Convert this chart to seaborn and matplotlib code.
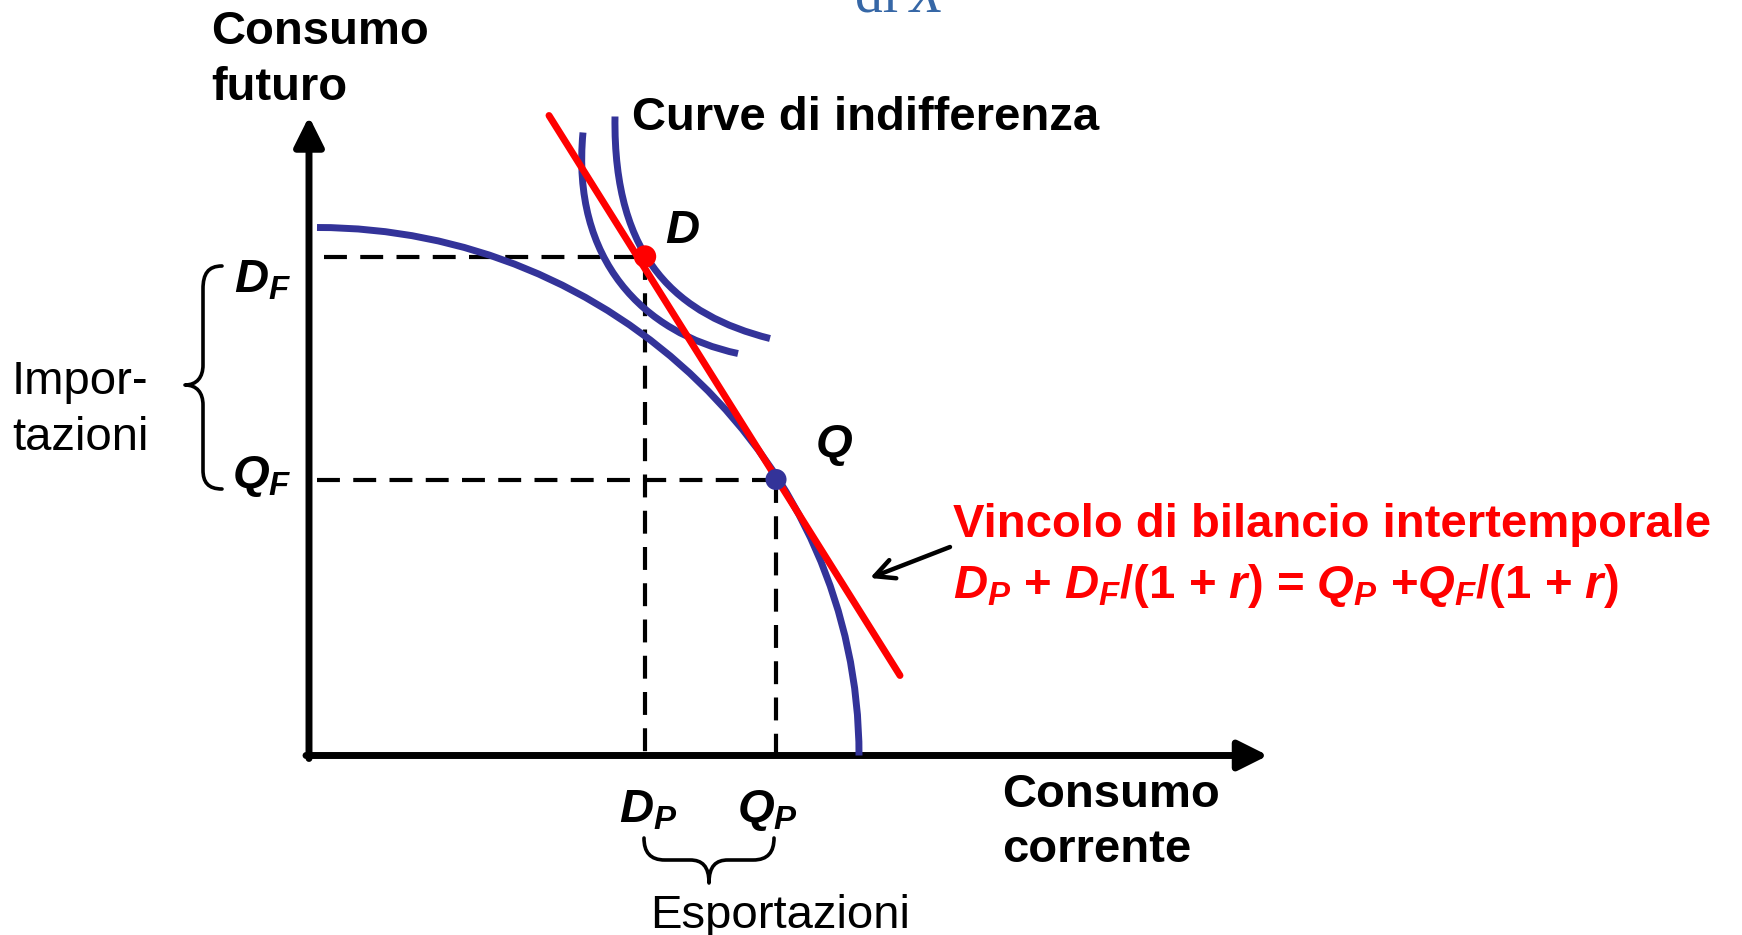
import matplotlib
matplotlib.use("Agg")
import matplotlib.pyplot as plt
import seaborn as sns
from matplotlib.path import Path
from matplotlib.patches import PathPatch

# Diagram values (units: one unit = 100 px in the 1742x935 frame, origin at the axes corner)
D_point = (3.36, 4.99)          # (D_P, D_F)
Q_point = (4.67, 2.76)          # (Q_P, Q_F)
budget_x = [2.40, 5.91]
budget_y = [6.40, 0.80]
ppf_ctrl_x = [0.08, 3.04, 5.50, 5.50]
ppf_ctrl_y = [5.28, 5.28, 2.92, 0.00]
ic1_ctrl_x = [3.06, 3.04, 3.70, 4.61]
ic1_ctrl_y = [6.39, 4.95, 4.40, 4.17]
ic2_ctrl_x = [2.74, 2.62, 3.35, 4.29]
ic2_ctrl_y = [6.23, 4.95, 4.22, 4.02]
x_axis_end = 9.59
y_axis_end = 6.39

BLUE = "#333399"
RED = "#ff0000"

sns.set_theme(style="white")
plt.rcParams["font.family"] = ["Liberation Sans", "DejaVu Sans"]
plt.rcParams["mathtext.fontset"] = "custom"
plt.rcParams["mathtext.rm"] = "Liberation Sans:bold"
plt.rcParams["mathtext.it"] = "Liberation Sans:bold:italic"
plt.rcParams["mathtext.bf"] = "Liberation Sans:bold"


def px(x, y):
    # pixel position in the reference frame -> data units
    return (x - 309) / 100, (755.5 - y) / 100


def bezier(ax, xs, ys, **kw):
    verts = list(zip(xs, ys))
    path = Path(verts, [Path.MOVETO, Path.CURVE4, Path.CURVE4, Path.CURVE4])
    ax.add_patch(PathPatch(path, fill=False, capstyle="butt", **kw))


def brace(ax, pts, codes):
    verts = [px(*p) for p in pts]
    ax.add_patch(PathPatch(Path(verts, codes), fill=False, lw=2.6,
                           color="black", capstyle="round", joinstyle="round"))


fig = plt.figure(figsize=(17.42, 9.35), dpi=100)
ax = fig.add_axes([0, 0, 1, 1])
ax.set_xlim(-3.09, 14.33)
ax.set_ylim(-1.795, 7.555)
ax.axis("off")

# axes with arrow heads
arrow_kw = dict(arrowstyle="-|>,head_length=0.9,head_width=0.45", lw=5,
                color="black", mutation_scale=20, shrinkA=0, shrinkB=0)
ax.annotate("", xy=(x_axis_end, 0), xytext=(-0.03, 0), arrowprops=arrow_kw)
ax.annotate("", xy=(0, y_axis_end), xytext=(0, -0.03), arrowprops=arrow_kw)

# dashed guide lines
dash = dict(color="black", linewidth=3.0, linestyle=(0, (5.5, 3.2)), zorder=2)
ax.plot([0.15, D_point[0]], [D_point[1], D_point[1]], **dash)
ax.plot([D_point[0], D_point[0]], [D_point[1], 0], **dash)
ax.plot([0.08, Q_point[0]], [Q_point[1], Q_point[1]], **dash)
ax.plot([Q_point[0], Q_point[0]], [Q_point[1], 0], **dash)

# production possibility frontier and indifference curves
bezier(ax, ppf_ctrl_x, ppf_ctrl_y, lw=5, color=BLUE, zorder=3)
bezier(ax, ic1_ctrl_x, ic1_ctrl_y, lw=5, color=BLUE, zorder=3)
bezier(ax, ic2_ctrl_x, ic2_ctrl_y, lw=5, color=BLUE, zorder=3)

# intertemporal budget constraint
sns.lineplot(x=budget_x, y=budget_y, ax=ax, sort=False, estimator=None,
             color=RED, linewidth=5, zorder=4)

# points D and Q
sns.scatterplot(x=[D_point[0]], y=[D_point[1]], ax=ax, color=RED, s=260,
                edgecolor="none", zorder=5)
sns.scatterplot(x=[Q_point[0]], y=[Q_point[1]], ax=ax, color=BLUE, s=230,
                edgecolor="none", zorder=5)

fs = 34
bold = dict(fontsize=fs, fontweight="bold", color="black", va="baseline", ha="left")
reg = dict(fontsize=fs, color="black", va="baseline", ha="left")

ax.text(*px(211, 44), "Consumo", **bold)
ax.text(*px(211, 100), "futuro", **bold)
ax.text(*px(632, 130), "Curve di indifferenza", **bold)
ax.text(*px(1002, 807), "Consumo", **bold)
ax.text(*px(1002, 862), "corrente", **bold)

ax.text(*px(665, 243), r"$D$", **bold)
ax.text(*px(815, 457), r"$Q$", **bold)
ax.text(*px(234, 293), r"$D_F$", **bold)
ax.text(*px(232, 488), r"$Q_F$", **bold)
ax.text(*px(619, 822), r"$D_P$", **bold)
ax.text(*px(737, 822), r"$Q_P$", **bold)

ax.text(*px(12, 394), "Impor-", **reg)
ax.text(*px(12, 450), "tazioni", **reg)
ax.text(*px(650, 928), "Esportazioni", **reg)

ax.text(*px(953, 537), "Vincolo di bilancio intertemporale",
        fontsize=fs, fontweight="bold", color=RED, va="baseline", ha="left")
ax.text(*px(953, 598), r"$D_P$ + $D_F$/(1 + $r$) = $Q_P$ +$Q_F$/(1 + $r$)",
        fontsize=fs, fontweight="bold", color=RED, va="baseline", ha="left")

# pointer to the budget line
ax.annotate("", xy=px(870, 578), xytext=px(950, 547),
            arrowprops=dict(arrowstyle="->,head_length=0.7,head_width=0.35",
                            lw=3.2, color="black", mutation_scale=20,
                            shrinkA=0, shrinkB=0))

# braces
C4, L, M = Path.CURVE4, Path.LINETO, Path.MOVETO
brace(ax, [(222, 266), (208, 266), (203, 274), (203, 289), (203, 365),
           (203, 377), (197, 385), (185, 385),
           (197, 385), (203, 393), (203, 405), (203, 470),
           (203, 482), (208, 489), (222, 489)],
      [M, C4, C4, C4, L, C4, C4, C4, C4, C4, C4, L, C4, C4, C4])
brace(ax, [(644, 838), (644, 852), (650, 860), (665, 860), (690, 860),
           (702, 860), (709, 866), (709, 883),
           (709, 866), (716, 860), (728, 860), (753, 860),
           (768, 860), (774, 852), (774, 838)],
      [M, C4, C4, C4, L, C4, C4, C4, C4, C4, C4, L, C4, C4, C4])

# title remnant cut by the top edge
serif = ["Liberation Serif", "DejaVu Serif"]
ax.text(*px(855, 12), "di", fontsize=40, family=serif,
        color="#3667a6", va="baseline", ha="left")
ax.text(*px(910, 12), "X", fontsize=40, family=serif,
        style="italic", color="#3667a6", va="baseline", ha="left")

fig.savefig("out.png", dpi=100)
